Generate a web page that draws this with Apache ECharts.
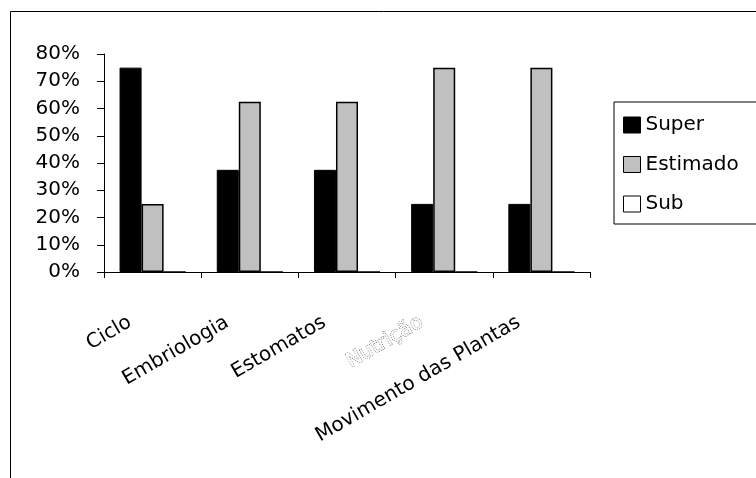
<!DOCTYPE html>
<html>
<head>
<meta charset="utf-8">
<script src="https://cdn.jsdelivr.net/npm/echarts@6/dist/echarts.min.js"></script>
<style>
  html, body { margin: 0; padding: 0; background: #fff; }
  #chart { width: 756px; height: 478px; }
</style>
</head>
<body>
<div id="chart"></div>
<script>
// Categories and series (percent values)
const categories = ['Ciclo', 'Embriologia', 'Estomatos', 'Nutrição', 'Movimento das Plantas'];
const superValues = [75, 37.5, 37.5, 25, 25];
const estimadoValues = [25, 62.5, 62.5, 75, 75];
const subValues = [0, 0, 0, 0, 0];
const yTicks = [0, 10, 20, 30, 40, 50, 60, 70, 80];

const FONT = '"DejaVu Sans", sans-serif';

const chart = echarts.init(document.getElementById('chart'), null, { renderer: 'canvas' });

const categoryData = categories.map(function (c) {
  if (c === 'Nutrição') {
    return {
      value: c,
      textStyle: {
        color: '#fff',
        textBorderColor: '#444',
        textBorderWidth: 1,
        textBorderType: 'dotted'
      }
    };
  }
  return c;
});

chart.setOption({
  animation: false,
  backgroundColor: '#fff',
  graphic: [{
    type: 'rect',
    shape: { x: 10.5, y: 11.5, width: 900, height: 600 },
    style: { fill: 'none', stroke: '#000', lineWidth: 1 },
    z: -1
  }],
  grid: { left: 104, top: 54, right: 166, bottom: 206, containLabel: false },
  legend: {
    orient: 'vertical',
    left: 614,
    top: 102,
    padding: [13, 80, 10, 9],
    borderColor: '#000',
    borderWidth: 1,
    itemWidth: 17,
    itemHeight: 16,
    itemGap: 19.5,
    icon: 'rect',
    itemStyle: { borderColor: '#000', borderWidth: 1 },
    textStyle: { fontFamily: FONT, fontSize: 20, color: '#000', padding: [0, 0, 0, 0] },
    data: ['Super', 'Estimado', 'Sub']
  },
  xAxis: {
    type: 'category',
    data: categoryData,
    boundaryGap: true,
    axisLine: { lineStyle: { color: '#000', width: 1 } },
    axisTick: { show: true, length: 6, lineStyle: { color: '#000' } },
    axisLabel: {
      interval: 0,
      rotate: 30,
      margin: 36,
      padding: [0, 26, 0, 0],
      fontFamily: FONT,
      fontSize: 20,
      color: '#000'
    }
  },
  yAxis: {
    type: 'value',
    min: yTicks[0],
    max: yTicks[yTicks.length - 1],
    interval: 10,
    splitLine: { show: false },
    axisLine: { show: true, lineStyle: { color: '#000', width: 1 } },
    axisTick: { show: true, length: 7, lineStyle: { color: '#000' } },
    axisLabel: {
      formatter: '{value}%',
      margin: 24,
      fontFamily: FONT,
      fontSize: 20,
      color: '#000'
    }
  },
  series: [
    {
      name: 'Super',
      type: 'bar',
      data: superValues,
      barGap: '0%',
      barCategoryGap: '32%',
      itemStyle: { color: '#000', borderColor: '#000', borderWidth: 1 }
    },
    {
      name: 'Estimado',
      type: 'bar',
      data: estimadoValues,
      itemStyle: { color: '#c0c0c0', borderColor: '#000', borderWidth: 1.5 }
    },
    {
      name: 'Sub',
      type: 'bar',
      data: subValues,
      itemStyle: { color: '#fff', borderColor: '#000', borderWidth: 1 }
    }
  ]
});
</script>
</body>
</html>
